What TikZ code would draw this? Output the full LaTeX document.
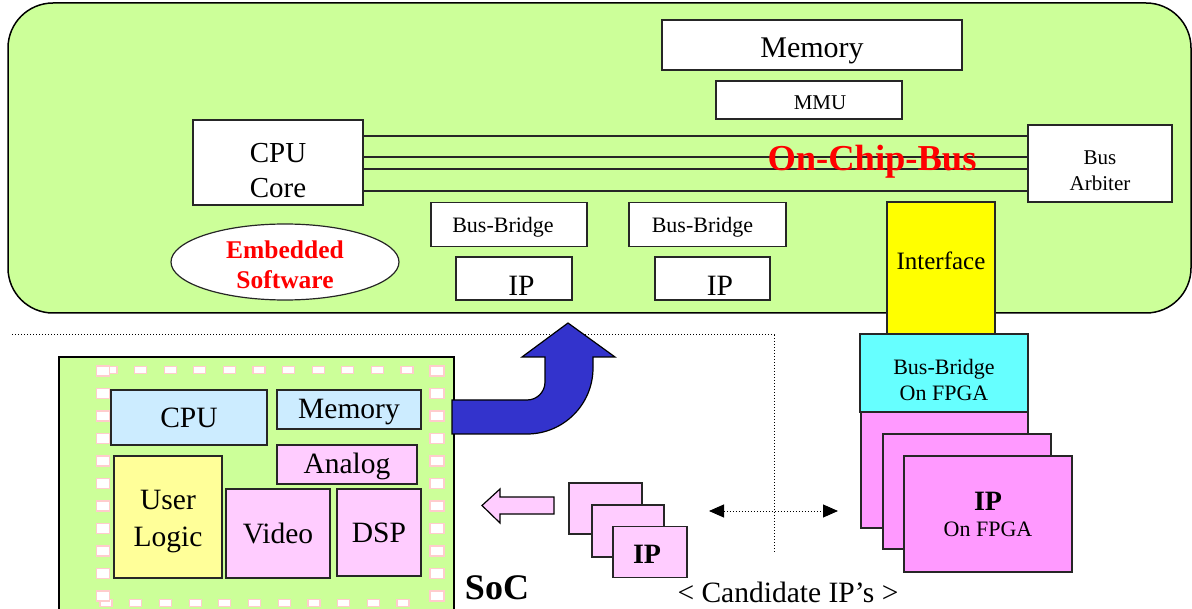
\documentclass[tikz,border=0pt]{standalone}
\usepackage{fontspec}
\setmainfont{Liberation Serif}
\usetikzlibrary{shapes.geometric,arrows.meta}
\definecolor{chipgreen}{HTML}{CCFF99}
\definecolor{lightblue}{HTML}{CCECFF}
\definecolor{softyellow}{HTML}{FFFF99}
\definecolor{lightpink}{HTML}{FFCCFF}
\definecolor{strongpink}{HTML}{FF99FF}
\definecolor{cyanbox}{HTML}{66FFFF}
\definecolor{ifyellow}{HTML}{FFFF00}
\definecolor{bigblue}{HTML}{3333CC}
\definecolor{padpink}{HTML}{FFCCCC}
\begin{document}
\begin{tikzpicture}[x=1pt,y=-1pt,
  box/.style={draw=black!85, line width=1.2pt, fill=white, inner sep=0pt, align=center},
  lbl/.style={inner sep=0pt, align=center},
  big/.style={font=\fontsize{29.5}{36}\selectfont},
  mid/.style={font=\fontsize{22}{26}\selectfont},
  pad/.style={draw=padpink, line width=1.2pt, fill=white},
  dots/.style={dotted, line width=1pt},
  bus/.style={line width=1.2pt, draw=black!85}]
\useasboundingbox (0,0) rectangle (1192,609);

% on-chip system board
\draw[line width=1.5pt, fill=chipgreen, rounded corners=45pt] (8,3) rectangle (1191,313);

\node[box, minimum width=300pt, minimum height=50pt,
  label={[lbl, font=\fontsize{30}{36}\selectfont, yshift=-6pt]center:Memory}] (mem) at (812,45) {};
\node[box, minimum width=186pt, minimum height=38pt,
  label={[lbl, font=\fontsize{21}{25}\selectfont, xshift=11pt, yshift=-3pt]center:MMU}] (mmu) at (809,100) {};
\node[box, minimum width=170pt, minimum height=85pt,
  label={[lbl, font=\fontsize{29}{35}\selectfont, yshift=-8pt]center:CPU\\Core}] (cpu) at (278,162.5) {};
\node[box, minimum width=144pt, minimum height=77pt,
  label={[lbl, font=\fontsize{21}{26}\selectfont, yshift=-7pt]center:Bus\\Arbiter}] (arb) at (1100,163.5) {};

% bus wires
\foreach \yy in {136,157,169,191}
  \draw[bus] (cpu.east |- 0,\yy) -- (arb.west |- 0,\yy);
\node[lbl, text=red, font=\bfseries\fontsize{36.5}{40}\selectfont] (ocb) at (872,162) {On-Chip-Bus};

\node[box, minimum width=156pt, minimum height=44pt,
  label={[lbl, mid, xshift=-6pt, yshift=-3pt]center:Bus-Bridge}] (bb1) at (509,224.5) {};
\node[box, minimum width=157pt, minimum height=44pt,
  label={[lbl, mid, xshift=-5pt, yshift=-3pt]center:Bus-Bridge}] (bb2) at (707.5,224.5) {};
\node[box, minimum width=116pt, minimum height=43pt,
  label={[lbl, big, xshift=7.5pt, yshift=-7pt]center:IP}] (ip1) at (514,278.5) {};
\node[box, minimum width=115pt, minimum height=43pt,
  label={[lbl, big, xshift=7.5pt, yshift=-7pt]center:IP}] (ip2) at (712.5,278.5) {};
\node[box, ellipse, minimum width=228pt, minimum height=76pt,
  label={[lbl, text=red, font=\bfseries\fontsize{25.5}{30}\selectfont, yshift=-3pt]center:Embedded\\Software}] (es) at (285,262) {};

\node[box, fill=ifyellow, minimum width=108pt, minimum height=133pt,
  label={[lbl, font=\fontsize{25}{28}\selectfont, yshift=8pt]center:Interface}] (iface) at (941,268.5) {};

% FPGA stack
\node[box, fill=strongpink, minimum width=167pt, minimum height=194pt] (fp1) at (944.5,431) {};
\node[box, fill=cyanbox, minimum width=168pt, minimum height=78pt,
  label={[lbl, mid, yshift=-7pt]center:Bus-Bridge\\On FPGA}] (bbf) at (944,373) {};
\node[box, fill=strongpink, minimum width=168pt, minimum height=115pt] (fp2) at (967,491.5) {};
\node[box, fill=strongpink, mid, minimum width=168pt, minimum height=116pt] (fp3) at (988,514) {{\bfseries\fontsize{28}{30}\selectfont IP}\\On FPGA};

% separator
\coordinate (sepA) at (12,335);
\coordinate (sepB) at (774,335);
\coordinate (sepC) at (774,553);
\draw[dots] (sepA) -- (sepB) -- (sepC);

% SoC die
\draw[line width=1.5pt, fill=chipgreen] (59,357) rectangle (454,625);
\foreach \i in {0,...,11}
  \draw[pad] (111+29.6*\i-6,370-3.5) rectangle +(12,7);
\foreach \i in {0,...,10}
  \draw[pad] (106+29.7*\i-6,603-3.5) rectangle +(12,7);
\foreach \j in {0,...,10} {
  \draw[pad] (103-6.5,371+22.5*\j-5) rectangle +(13,10);
  \draw[pad] (437-7,371+22.5*\j-5) rectangle +(14,10);
}
\node[box, big, fill=lightblue, minimum width=156pt, minimum height=55pt] (scpu) at (189,417.5) {CPU};
\node[box, fill=lightblue, minimum width=144pt, minimum height=39pt,
  label={[lbl, big, yshift=-3pt]center:Memory}] (smem) at (349,409.5) {};
\node[box, fill=lightpink, minimum width=140pt, minimum height=39pt,
  label={[lbl, big, yshift=-2pt]center:Analog}] (ana) at (347,464.5) {};
\node[box, fill=softyellow, minimum width=108pt, minimum height=122pt,
  label={[lbl, font=\fontsize{29.5}{37}\selectfont, yshift=-5pt]center:User\\Logic}] (ul) at (168,517) {};
\node[box, big, fill=lightpink, minimum width=104pt, minimum height=89pt] (vid) at (278,533.5) {Video};
\node[box, big, fill=lightpink, minimum width=84pt, minimum height=87pt] (dsp) at (379,532.5) {DSP};
\node[lbl, font=\bfseries\fontsize{36}{40}\selectfont] (soc) at (497,588) {SoC};

% transfer arrow towards the bus
\draw[line width=1.2pt, fill=bigblue] (452,400) -- (527,400)
  .. controls (537,400) and (545,392) .. (545,382) -- (545,357) -- (522,357)
  -- (568,323) -- (615,357) -- (593,357) -- (593,368)
  .. controls (593,404.5) and (563.5,434) .. (527,434) -- (452,434) -- cycle;

% candidate IP cards
\draw[line width=1.2pt, fill=lightpink] (554,497) -- (500,497) -- (500,489) -- (482,505.5)
  -- (500,523) -- (500,514) -- (554,514) -- cycle;
\node[box, fill=lightpink, minimum width=73pt, minimum height=51pt] (c1) at (605.5,508.5) {};
\node[box, fill=lightpink, minimum width=72pt, minimum height=52pt] (c2) at (628,531) {};
\node[box, fill=lightpink, minimum width=74pt, minimum height=51pt,
  label={[lbl, font=\bfseries\fontsize{28}{30}\selectfont, xshift=-3pt, yshift=-2pt]center:IP}] (c3) at (650,552) {};
\node[lbl, font=\fontsize{29.5}{34}\selectfont] (cand) at (788,592.5) {< Candidate IP’s >};

\coordinate (dl) at (709,511);
\coordinate (dr) at (838,511);
\draw[dots, {Triangle[width=13pt,length=15pt]}-{Triangle[width=13pt,length=15pt]}] (dl) -- (dr);
\end{tikzpicture}
\end{document}
